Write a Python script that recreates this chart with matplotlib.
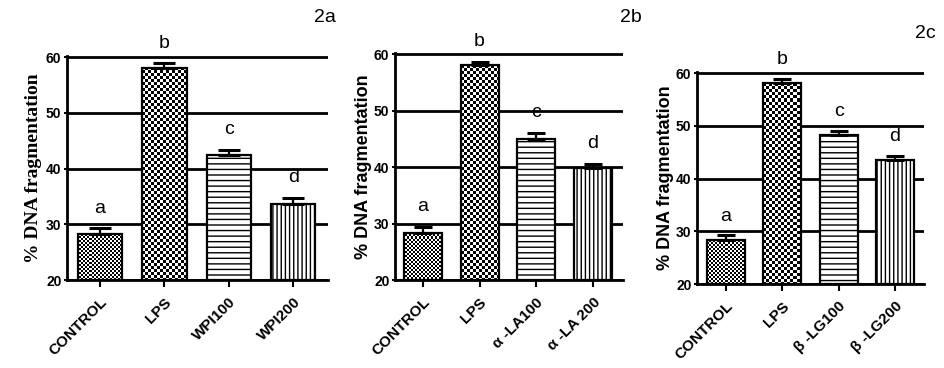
import numpy as np
import matplotlib
matplotlib.use('Agg')
import matplotlib.pyplot as plt

# values (% DNA fragmentation, mean and upper SEM)
groups_a = ['CONTROL', 'LPS', 'WPI100', 'WPI200']
means_a = [28.2, 58.1, 42.5, 33.7]
errs_a = [1.1, 0.8, 0.9, 1.05]

groups_b = ['CONTROL', 'LPS', 'α -LA100', 'α -LA 200']
means_b = [28.4, 58.0, 45.0, 39.9]
errs_b = [1.0, 0.6, 1.0, 0.7]

groups_c = ['CONTROL', 'LPS', 'β -LG100', 'β -LG200']
means_c = [28.3, 58.2, 48.2, 43.6]
errs_c = [0.9, 0.7, 0.9, 0.7]

letters = ['a', 'b', 'c', 'd']
panel_names = ['2a', '2b', '2c']
yticks = [20, 30, 40, 50, 60]

W, H = 945, 368
narrow = ['Liberation Sans Narrow', 'Liberation Sans', 'DejaVu Sans']
plt.rcParams['font.family'] = narrow

fig = plt.figure(figsize=(W / 100, H / 100), dpi=100)

# axes boxes in pixels: left, top, right, bottom
boxes = [(67, 56, 328, 280), (395, 53, 623, 280), (697, 72, 924, 284)]
xlims = [(-0.51, 3.54), (-0.49, 3.53), (-0.515, 3.515)]
widths = [0.69, 0.67, 0.675]
capsizes = [8, 6.5, 6.5]
label_pos = [(325, 18), (631, 18), (925, 33)]
ylabel_x = [-0.095, -0.1, -0.1]
ylabel_fonts = [dict(family=['Liberation Serif', 'DejaVu Serif'], fontsize=14, fontweight='bold'),
                dict(family=narrow, fontsize=13, fontweight='bold'),
                dict(family=narrow, fontsize=13, fontweight='bold')]


def checker(shape, cell):
    i, j = np.indices(shape)
    return ((i // cell + j // cell) % 2).astype(float)


panels = [(groups_a, means_a, errs_a), (groups_b, means_b, errs_b), (groups_c, means_c, errs_c)]

for k, (names, means, errs) in enumerate(panels):
    l, t, r, b = boxes[k]
    ax = fig.add_axes([l / W, 1 - b / H, (r - l) / W, (b - t) / H])
    x = np.arange(len(names))
    ylim = (20, 60.2)

    bars = ax.bar(x, np.array(means) - 20, widths[k], bottom=20, facecolor='white',
                  edgecolor='black', linewidth=1.6, zorder=2)
    bars[2].set_hatch('---')
    bars[3].set_hatch('||||')

    # checkerboard fills for CONTROL (fine) and LPS (coarse)
    shape = (b - t, r - l)
    for bar, cell in zip(bars[:2], [2, 3]):
        bar.set_facecolor('none')
        im = ax.imshow(checker(shape, cell), cmap='gray', vmin=0, vmax=1,
                       extent=(xlims[k][0], xlims[k][1], ylim[0], ylim[1]),
                       aspect='auto', interpolation='nearest', zorder=1.5)
        im.set_clip_path(bar)

    ax.errorbar(x, means, yerr=[np.zeros(len(errs)), errs], fmt='none', ecolor='black',
                elinewidth=1.6, capsize=capsizes[k], capthick=2.2, zorder=3)

    for xi, m, e, let in zip(x, means, errs, letters):
        ax.text(xi, m + e + 3.6, let, ha='center', va='center', fontsize=14)

    ax.set_xlim(*xlims[k])
    ax.set_ylim(*ylim)
    ax.set_yticks(yticks)
    ax.set_yticklabels([str(v) for v in yticks], fontweight='bold', fontsize=10)
    ax.set_xticks(x)
    ax.set_xticklabels(names, rotation=45, ha='right', rotation_mode='anchor',
                       fontweight='bold', fontsize=11)
    ax.tick_params(axis='x', length=5, width=1.5, pad=6)
    ax.tick_params(axis='y', length=2, width=1.5, pad=2)

    ax.yaxis.grid(True, color='black', linewidth=2)
    ax.set_axisbelow(True)
    for s in ['top', 'right']:
        ax.spines[s].set_visible(False)
    for s in ['left', 'bottom']:
        ax.spines[s].set_linewidth(2)

    ax.set_ylabel('% DNA fragmentation', **ylabel_fonts[k])
    ax.yaxis.set_label_coords(ylabel_x[k], 0.5)

    fig.text(label_pos[k][0] / W, 1 - label_pos[k][1] / H, panel_names[k],
             ha='center', va='center', fontsize=14)

fig.savefig('out.png', dpi=100)
